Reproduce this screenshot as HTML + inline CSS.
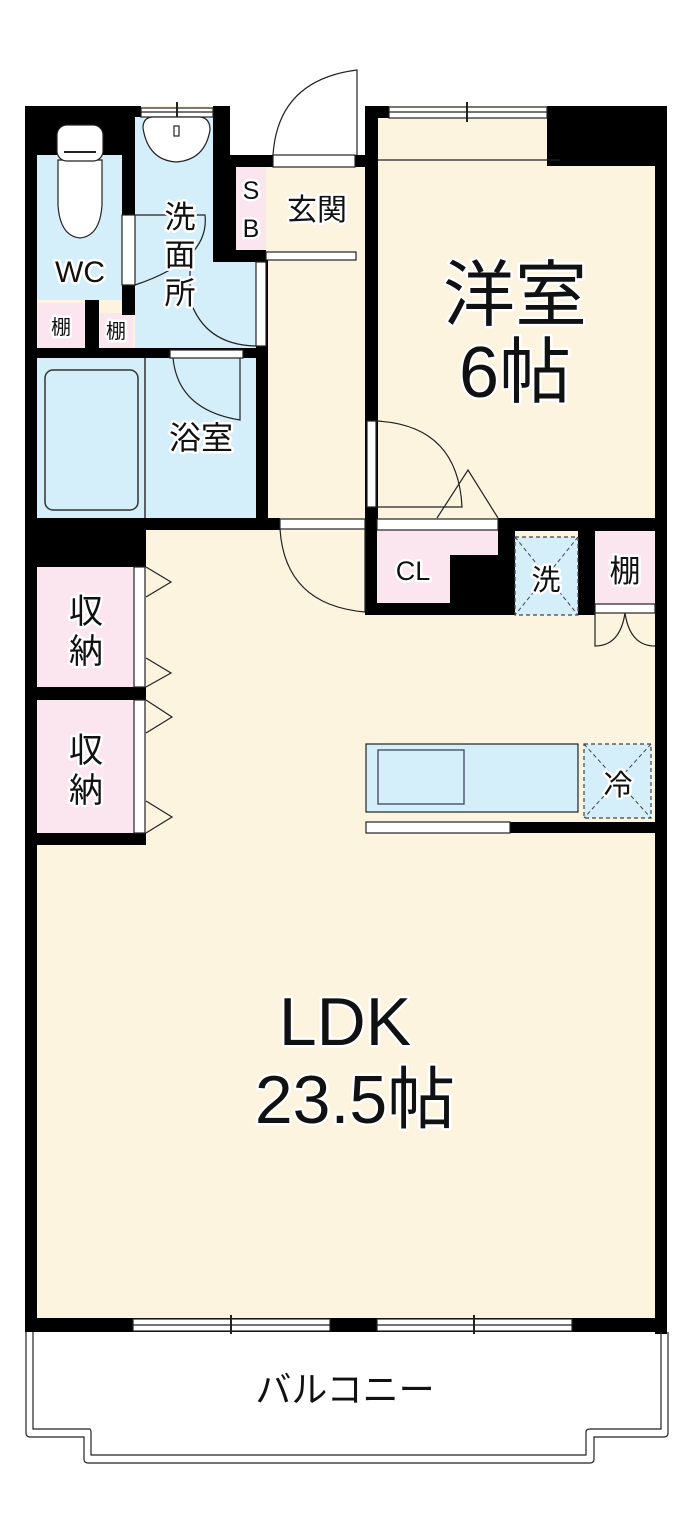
<!DOCTYPE html>
<html><head><meta charset="utf-8"><style>
html,body{margin:0;padding:0;background:#fff;}
svg{display:block;}
text{font-family:"Liberation Sans","Noto Sans CJK JP",sans-serif;fill:#111;stroke:#fff;stroke-width:5px;paint-order:stroke;stroke-linejoin:round;text-anchor:middle;}
</style></head><body>
<svg width="700" height="1529" viewBox="0 0 700 1529" xmlns="http://www.w3.org/2000/svg">
<!-- floors -->
<rect x="25" y="106" width="642" height="1226" fill="#fdf4e0"/>
<rect x="230" y="100" width="135" height="55" fill="#fff"/>
<!-- wet area blue -->
<rect x="37" y="155" width="85" height="145" fill="#d4eefa"/>
<rect x="135" y="117" width="95" height="231" fill="#d4eefa"/>
<rect x="135" y="262" width="121" height="86" fill="#d4eefa"/>
<rect x="37" y="358" width="219" height="160" fill="#d4eefa"/>
<rect x="45" y="370" width="93" height="140" rx="8" fill="#d4eefa" stroke="#333" stroke-width="1.5"/>
<line x1="145" y1="358" x2="145" y2="518" stroke="#333" stroke-width="1.5"/>
<!-- pink -->
<rect x="37" y="303" width="48" height="45" fill="#fbe6ef"/>
<rect x="99" y="313" width="34" height="35" fill="#fbe6ef"/>
<rect x="236" y="167" width="30" height="83" fill="#fbe6ef"/>
<rect x="37" y="567" width="97" height="120" fill="#fbe6ef"/>
<rect x="37" y="700" width="97" height="133" fill="#fbe6ef"/>
<rect x="377" y="530" width="121" height="73" fill="#fbe6ef"/>
<rect x="595" y="531" width="60" height="73" fill="#fbe6ef"/>
<!-- walls black -->
<g fill="#000">
<rect x="25" y="106" width="110" height="49"/>
<rect x="25" y="106" width="12" height="1226"/>
<rect x="122" y="155" width="13" height="160"/>
<rect x="85" y="300" width="14" height="48"/>
<rect x="25" y="300" width="12" height="3"/>
<rect x="135" y="106" width="6" height="11"/>
<rect x="213" y="106" width="17" height="156"/>
<rect x="230" y="155" width="43" height="12"/>
<rect x="230" y="155" width="6" height="107"/>
<rect x="230" y="250" width="36" height="12"/>
<rect x="355" y="155" width="23" height="12"/>
<rect x="25" y="348" width="241" height="10"/>
<rect x="256" y="258" width="12" height="270"/>
<rect x="25" y="518" width="255" height="12"/>
<rect x="25" y="518" width="121" height="49"/>
<rect x="25" y="687" width="121" height="13"/>
<rect x="25" y="833" width="121" height="12"/>
<rect x="365" y="106" width="13" height="422"/>
<rect x="365" y="106" width="24" height="12"/>
<rect x="547" y="106" width="120" height="60"/>
<rect x="655" y="106" width="12" height="520"/>
<rect x="365" y="518" width="12" height="97"/>
<rect x="498" y="518" width="169" height="13"/>
<rect x="377" y="603" width="131" height="12"/>
<rect x="450" y="555" width="58" height="60"/>
<rect x="498" y="518" width="17" height="97"/>
<rect x="578" y="518" width="17" height="97"/>
<rect x="655" y="604" width="12" height="730"/>
<rect x="510" y="822" width="157" height="11"/>
<rect x="25" y="1318" width="642" height="14"/>
</g>
<!-- white strips / windows -->
<g fill="#fff" stroke="#222" stroke-width="1.2">
<rect x="141" y="108" width="72" height="9"/>
<rect x="389" y="107" width="158" height="11"/>
<rect x="273" y="155" width="82" height="12"/>
<rect x="266" y="252" width="90" height="8"/>
<rect x="122" y="215" width="13" height="70"/>
<rect x="256" y="262" width="10" height="84"/>
<rect x="170" y="350" width="73" height="8"/>
<rect x="280" y="519" width="85" height="10"/>
<rect x="367" y="421" width="9" height="86"/>
<rect x="377" y="519" width="121" height="11"/>
<rect x="134" y="567" width="11" height="120"/>
<rect x="134" y="700" width="11" height="133"/>
<rect x="595" y="604" width="60" height="9"/>
<rect x="366" y="822" width="144" height="11"/>
<rect x="133" y="1319" width="197" height="12"/>
<rect x="377" y="1319" width="195" height="12"/>
</g>
<g stroke="#222" stroke-width="1.2" fill="none">
<line x1="141" y1="112" x2="213" y2="112"/>
<line x1="389" y1="112" x2="547" y2="112"/>
<line x1="133" y1="1325" x2="330" y2="1325"/>
<line x1="377" y1="1325" x2="572" y2="1325"/>
<line x1="177" y1="102" x2="177" y2="122" stroke-width="2"/>
<line x1="467" y1="102" x2="467" y2="122" stroke-width="2"/>
<line x1="231" y1="1315" x2="231" y2="1334" stroke-width="2"/>
<line x1="474" y1="1315" x2="474" y2="1334" stroke-width="2"/>
<line x1="378" y1="160" x2="560" y2="160"/>
<!-- toilet -->
<path d="M58 160 L58 205 Q60 236 80 238 Q100 236 102 205 L102 160 Z" fill="#fff"/>
<rect x="57" y="125" width="46" height="36" rx="10" fill="#fff"/>
<line x1="64" y1="152" x2="96" y2="152" stroke-width="2"/>
<!-- sink -->
<path d="M143 128 Q143 118 152 117 L200 117 Q210 118 210 130 Q205 160 176 162 Q148 160 143 128 Z" fill="#fff"/>
<rect x="174" y="126" width="5" height="10" fill="#fff"/>
<!-- washroom doors -->
<path d="M135 215 L205 215 Q210 260 135 285"/>
<path d="M256 346 Q205 345 190 300 L190 262"/>
<!-- bath door -->
<path d="M173 358 Q178 410 240 420 L240 358"/>
<!-- entrance door -->
<path d="M273 155 Q278 80 357 70 L357 155"/>
<!-- hall door to LDK -->
<path d="M280 529 Q285 605 365 612 L365 529"/>
<!-- 洋室 door -->
<path d="M376 421 Q458 425 462 507 L376 507"/>
<path d="M437 518 L468 470 L498 518"/>
<!-- closet triangles -->
<path d="M146 567 L171 582 L146 597"/>
<path d="M146 658 L171 673 L146 687"/>
<path d="M146 700 L172 717 L146 733"/>
<path d="M146 801 L172 817 L146 833"/>
<!-- bifold -->
<path d="M595 613 L595 646 Q620 646 625 613 Q630 646 655 646"/>
<!-- balcony -->
<path d="M26 1332 L26 1433 Q26 1437 30 1437 L84 1437 L84 1459 Q84 1463 88 1463 L590 1463 Q594 1463 594 1459 L594 1437 L664 1437 Q668 1437 668 1433 L668 1332" stroke-width="1.2"/>
<path d="M33 1332 L33 1429 L90 1429 Q91 1430 91 1433 L91 1455 L586 1455 L586 1432 Q586 1429 590 1429 L661 1429 L661 1332" stroke-width="1.2"/>
</g>
<!-- washer -->
<rect x="515" y="537" width="63" height="78" fill="#d4eefa" stroke="#444" stroke-width="1.2" stroke-dasharray="4,3"/>
<path d="M515 537 L578 615 M578 537 L515 615" stroke="#444" stroke-width="1" stroke-dasharray="4,3"/>
<!-- kitchen -->
<rect x="366" y="744" width="212" height="68" fill="#d4eefa" stroke="#222" stroke-width="1.2"/>
<rect x="378" y="750" width="86" height="54" fill="#d4eefa" stroke="#335" stroke-width="1.2"/>
<line x1="366" y1="812" x2="578" y2="812" stroke="#222" stroke-width="1"/>
<rect x="584" y="744" width="67" height="74" fill="#d4eefa" stroke="#444" stroke-width="1.2" stroke-dasharray="4,3"/>
<path d="M584 744 L651 818 M651 744 L584 818" stroke="#444" stroke-width="1" stroke-dasharray="4,3"/>
<!-- labels -->
<text x="80" y="282" font-size="30">WC</text>
<text x="180" y="228" font-size="31">洗</text>
<text x="180" y="266" font-size="31">面</text>
<text x="180" y="304" font-size="31">所</text>
<text x="251" y="199" font-size="25">S</text>
<text x="251" y="237" font-size="25">B</text>
<text x="317" y="220" font-size="30">玄関</text>
<text x="61" y="334" font-size="20">棚</text>
<text x="116" y="338" font-size="20">棚</text>
<text x="201" y="449" font-size="32">浴室</text>
<text x="515" y="320" font-size="72">洋室</text>
<text x="515" y="397" font-size="72">6帖</text>
<text x="413" y="580" font-size="27">CL</text>
<text x="546" y="590" font-size="29">洗</text>
<text x="625" y="582" font-size="31">棚</text>
<text x="86" y="623" font-size="34">収</text>
<text x="86" y="663" font-size="34">納</text>
<text x="86" y="762" font-size="34">収</text>
<text x="86" y="802" font-size="34">納</text>
<text x="618" y="795" font-size="29">冷</text>
<text x="345" y="1045" font-size="68">LDK</text>
<text x="355" y="1123" font-size="68">23.5帖</text>
<text x="345" y="1402" font-size="36" stroke-width="0">バルコニー</text>
</svg>
</body></html>
